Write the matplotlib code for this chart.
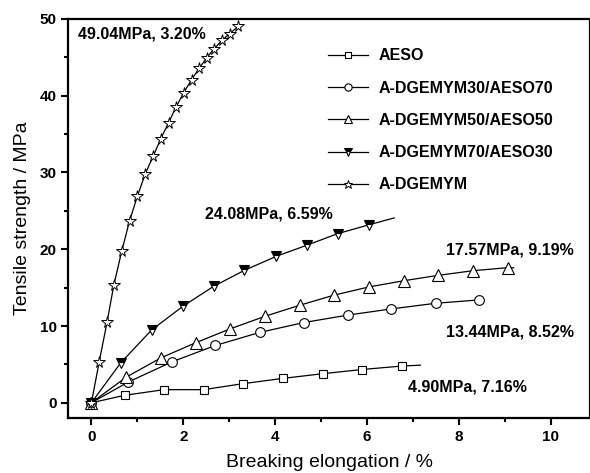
import matplotlib
matplotlib.use("Agg")
import matplotlib.pyplot as plt
from matplotlib.ticker import MultipleLocator

plt.rcParams['font.family'] = ['Liberation Sans', 'DejaVu Sans']

# ---- data (elongation %, strength MPa) ----
aeso_x = [0, 0.72, 1.58, 2.44, 3.30, 4.17, 5.04, 5.88, 6.75]
aeso_y = [0, 0.97, 1.71, 1.71, 2.49, 3.18, 3.79, 4.33, 4.78]

d30_x = [0, 0.80, 1.76, 2.70, 3.66, 4.62, 5.58, 6.53, 7.49, 8.44]
d30_y = [0, 2.70, 5.35, 7.47, 9.16, 10.45, 11.42, 12.23, 12.96, 13.40]

d50_x = [0, 0.76, 1.52, 2.27, 3.02, 3.78, 4.53, 5.28, 6.04, 6.80, 7.55, 8.30, 9.06]
d50_y = [0, 3.35, 5.87, 7.82, 9.63, 11.27, 12.70, 14.02, 15.09, 15.90, 16.60, 17.20, 17.60]

d70_x = [0, 0.64, 1.31, 1.99, 2.66, 3.33, 4.02, 4.70, 5.36, 6.05]
d70_y = [0, 5.22, 9.48, 12.57, 15.17, 17.25, 19.07, 20.55, 22.03, 23.20]

dg_x = [0, 0.17, 0.34, 0.49, 0.66, 0.83, 1.00, 1.17, 1.35, 1.51, 1.68, 1.84,
        2.01, 2.18, 2.35, 2.51, 2.67, 2.84, 3.01, 3.20]
dg_y = [0, 5.35, 10.5, 15.4, 19.75, 23.7, 26.9, 29.8, 32.2, 34.4, 36.5, 38.5,
        40.4, 42.1, 43.6, 44.96, 46.1, 47.2, 48.1, 49.04]

# breaking points (end of each curve)
break_x = [7.16, 8.52, 9.19, 6.59, 3.20]
break_y = [4.90, 13.44, 17.57, 24.08, 49.04]
labels = ['AESO', 'A-DGEMYM30/AESO70', 'A-DGEMYM50/AESO50',
          'A-DGEMYM70/AESO30', 'A-DGEMYM']

fig = plt.figure(figsize=(5.9, 4.73), dpi=100)
ax = fig.add_axes([0.116, 0.116, 0.884, 0.844])

series = [(aeso_x, aeso_y), (d30_x, d30_y), (d50_x, d50_y), (d70_x, d70_y), (dg_x, dg_y)]
styles = [dict(marker='s', ms=5.5, mfc='white'),
          dict(marker='o', ms=7, mfc='white'),
          dict(marker='^', ms=8, mfc='white'),
          dict(marker='v', ms=7.5, mfc='black', fillstyle='top', markerfacecoloralt='white'),
          dict(marker='*', ms=8.5, mfc='white', mew=0.7)]

handles = []
for i, ((xs, ys), st) in enumerate(zip(series, styles)):
    lx = list(xs)
    ly = list(ys)
    if lx[-1] != break_x[i]:
        lx.append(break_x[i])
        ly.append(break_y[i])
    kw = dict(color='black', lw=0.9, mec='black', mew=0.8)
    kw.update(st)
    h, = ax.plot(lx, ly, markevery=list(range(len(xs))), label=labels[i], zorder=3 + i, **kw)
    handles.append(h)

# annotations
tk = dict(fontsize=11.5, fontweight='bold', va='center', ha='left')
ax.text(-0.30, 48.1, '49.04MPa, 3.20%', **tk)
ax.text(2.48, 24.6, '24.08MPa, 6.59%', **tk)
ax.text(7.72, 19.9, '17.57MPa, 9.19%', **tk)
ax.text(7.72, 9.2, '13.44MPa, 8.52%', **tk)
ax.text(6.90, 2.0, '4.90MPa, 7.16%', **tk)

leg = ax.legend(handles=handles, loc='upper left', bbox_to_anchor=(0.47, 0.962),
                frameon=False, handlelength=2.5, handletextpad=0.7, labelspacing=1.08,
                markerscale=0.75, numpoints=1, prop=dict(size=11.5, weight='bold'))

ax.set_xlim(-0.5, 10.85)
ax.set_ylim(-2, 50)
ax.xaxis.set_major_locator(MultipleLocator(2))
ax.xaxis.set_minor_locator(MultipleLocator(1))
ax.yaxis.set_major_locator(MultipleLocator(10))
ax.yaxis.set_minor_locator(MultipleLocator(5))
ax.tick_params(which='major', direction='out', length=5, width=1.5, labelsize=11)
ax.tick_params(which='minor', direction='out', length=3, width=1.5)
for lab in ax.get_xticklabels() + ax.get_yticklabels():
    lab.set_fontweight('bold')
for sp in ax.spines.values():
    sp.set_linewidth(1.6)

ax.set_xlabel('Breaking elongation / %', fontsize=14, labelpad=7)
ax.set_ylabel('Tensile strength / MPa', fontsize=14, labelpad=6)

fig.savefig('out.png', dpi=100)
